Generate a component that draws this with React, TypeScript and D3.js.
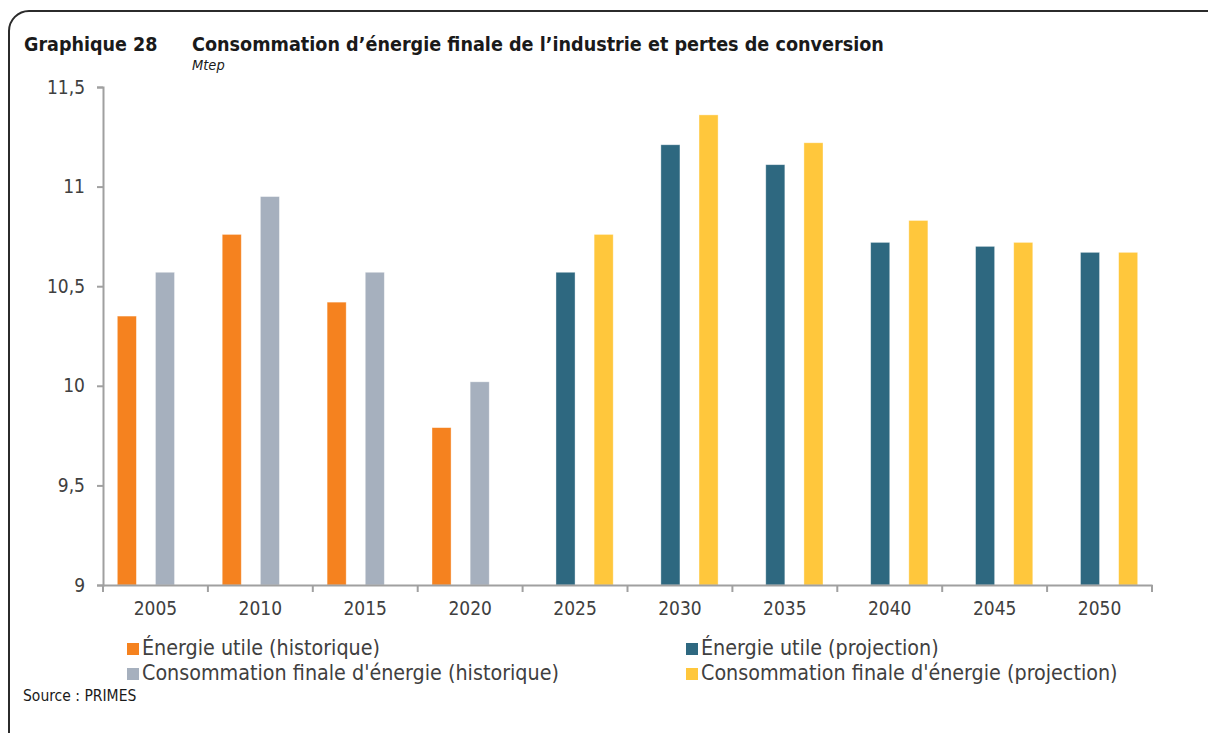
import { useRef, useMemo, useEffect } from 'react';
import * as d3 from 'd3';

// data (Mtep)
const years = ['2005', '2010', '2015', '2020', '2025', '2030', '2035', '2040', '2045', '2050'];
const seriesKeys = ['utileHist', 'utileProj', 'finaleHist', 'finaleProj'];
const seriesLabels = [
  'Énergie utile (historique)',
  'Énergie utile (projection)',
  "Consommation finale d'énergie (historique)",
  "Consommation finale d'énergie (projection)",
];
const seriesColors = ['#F5821F', '#2E6880', '#A6B0BE', '#FFC73C'];

const utileHist = [10.35, 10.76, 10.42, 9.79, null, null, null, null, null, null];
const utileProj = [null, null, null, null, 10.57, 11.21, 11.11, 10.72, 10.7, 10.67];
const finaleHist = [10.57, 10.95, 10.57, 10.02, null, null, null, null, null, null];
const finaleProj = [null, null, null, null, 10.76, 11.36, 11.22, 10.83, 10.72, 10.67];

const yTicks = [9, 9.5, 10, 10.5, 11, 11.5];

const FONT = '"DejaVu Sans Condensed", "DejaVu Sans", sans-serif';

const App = () => {
  const width = 1208;
  const height = 733;
  const marginLeft = 103;
  const marginRight = 56;
  const marginTop = 87;
  const plotBottom = 585;

  const axesRef = useRef(null);

  const xScale = useMemo(() => d3.scaleBand()
    .domain(years)
    .range([marginLeft, width - marginRight])
    .padding(0), []);

  const xInner = useMemo(() => d3.scaleBand()
    .domain(seriesKeys)
    .range([0, xScale.bandwidth()])
    .paddingInner(0)
    .paddingOuter(0.75), [xScale]);

  const yScale = useMemo(() => d3.scaleLinear()
    .domain([9, 11.5])
    .range([plotBottom, marginTop]), []);

  const colorScale = d3.scaleOrdinal().domain(seriesKeys).range(seriesColors);

  const table = years.map((yr, i) => ({
    year: yr,
    values: [
      { key: 'utileHist', v: utileHist[i] },
      { key: 'utileProj', v: utileProj[i] },
      { key: 'finaleHist', v: finaleHist[i] },
      { key: 'finaleProj', v: finaleProj[i] },
    ],
  }));

  useEffect(() => {
    const g = d3.select(axesRef.current);
    g.selectAll('*').remove();

    // Y AXIS
    g.append('g')
      .attr('transform', `translate(${marginLeft}, 0)`)
      .call(d3.axisLeft(yScale).tickValues(yTicks).tickSize(6).tickPadding(12)
        .tickFormat(d => String(d).replace('.', ',')))
      .call(s => s.selectAll('path, line').attr('stroke', '#A0A0A0').attr('stroke-width', 2))
      .call(s => s.selectAll('text')
        .attr('font-family', FONT).attr('font-size', 19).attr('fill', '#404040'));

    // X AXIS
    const xg = g.append('g')
      .attr('transform', `translate(0, ${plotBottom})`);
    xg.call(d3.axisBottom(xScale).tickSize(0).tickPadding(17))
      .call(s => s.select('.domain').attr('stroke', '#A0A0A0').attr('stroke-width', 2))
      .call(s => s.selectAll('text')
        .attr('font-family', FONT).attr('font-size', 19).attr('fill', '#404040'));
    // tick marks between categories
    const bounds = years.map(y => xScale(y)).concat([xScale(years[years.length - 1]) + xScale.bandwidth()]);
    xg.selectAll('.sep')
      .data(bounds)
      .join('line')
      .attr('x1', d => d).attr('x2', d => d)
      .attr('y1', 0).attr('y2', 7)
      .attr('stroke', '#A0A0A0').attr('stroke-width', 2);
  }, [xScale, yScale]);

  const bars = table.map(row => (
    <g key={row.year} transform={`translate(${xScale(row.year)}, 0)`}>
      {row.values.filter(d => d.v != null).map(d => (
        <rect
          key={d.key}
          x={xInner(d.key)}
          y={yScale(d.v)}
          width={xInner.bandwidth()}
          height={plotBottom - yScale(d.v)}
          fill={colorScale(d.key)}
          stroke="#ffffff"
          strokeOpacity={0.5}
          strokeWidth={0.75}
        />
      ))}
    </g>
  ));

  const legendPos = [
    { x: 127, y: 655 },
    { x: 686, y: 655 },
    { x: 127, y: 680 },
    { x: 686, y: 680 },
  ];

  return (
    <svg width={width} height={height}
      style={{ position: 'absolute', left: 0, top: 0, display: 'block', background: '#fff' }}>
      {/* frame */}
      <path d={`M9,${height} V31 A20,20 0 0 1 29,11 H${width}`}
        fill="none" stroke="#2b2b2b" strokeWidth={2} />

      {/* title */}
      <text x={24} y={51} fontFamily={FONT} fontWeight="bold" fontSize={19.5} fill="#1a1a1a">Graphique 28</text>
      <text x={192} y={51} fontFamily={FONT} fontWeight="bold" fontSize={19.6} fill="#1a1a1a">
        Consommation d’énergie finale de l’industrie et pertes de conversion
      </text>
      <text x={192} y={70} fontFamily={FONT} fontStyle="italic" fontSize={14.5} fill="#1a1a1a">Mtep</text>

      <g>{bars}</g>
      <g ref={axesRef} />

      {/* legend */}
      {seriesKeys.map((k, i) => (
        <g key={k} transform={`translate(${legendPos[i].x}, ${legendPos[i].y})`}>
          <rect x={0} y={-12} width={12} height={12} fill={colorScale(k)} />
          <text x={15} y={0} fontFamily={FONT} fontSize={21.3} fill="#404040">{seriesLabels[i]}</text>
        </g>
      ))}

      <text x={23} y={701} fontFamily={FONT} fontSize={15.5} fill="#1a1a1a">Source : PRIMES</text>
    </svg>
  );
};

export default App;
